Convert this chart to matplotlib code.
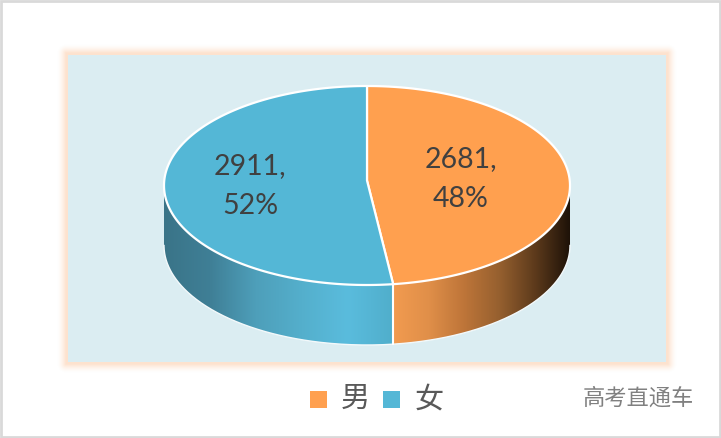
#!/usr/bin/env python3
import numpy as np
import matplotlib
matplotlib.use("Agg")
import matplotlib.pyplot as plt
from matplotlib.colors import LinearSegmentedColormap
from matplotlib.patches import Polygon, Rectangle

categories = ["男", "女"]
values = [2681, 2911]
colors = ["#FFA04F", "#54B7D6"]
side_orange = ["#F29B50", "#E08F49", "#BE7539", "#96602F", "#5E3B1C", "#1E1208"]
side_blue = ["#3A7488", "#3F7F96", "#4E9FBA", "#54AFCC", "#5ABCDD", "#50AECB"]

W, H = 721, 438
cx, cy, a, b = 367, 185.5, 203, 99.5
depth = 60


def rim(t):
    # t runs clockwise from the top of the pie
    return np.column_stack([cx + a * np.sin(t), cy - b * np.cos(t)])


def glow_panel(ax):
    # soft orange halo around the plot area
    x0, x1, y0, y1 = 66, 668, 53, 364
    xx, yy = np.meshgrid(np.arange(W) + 0.5, np.arange(H) + 0.5)
    dx = np.maximum(np.maximum(x0 - xx, xx - x1), 0)
    dy = np.maximum(np.maximum(y0 - yy, yy - y1), 0)
    dist = np.hypot(dx, dy)
    img = np.zeros((H, W, 4))
    img[..., :3] = matplotlib.colors.to_rgb("#FDE2CE")
    img[..., 3] = np.clip(1 - dist / 9, 0, 1) ** 1.6
    ax.imshow(img, extent=(0, W, H, 0), zorder=1, interpolation="bilinear")
    ax.add_patch(Rectangle((x0 + 2, y0 + 2), x1 - x0 - 4, y1 - y0 - 4,
                           fc="#DBEDF2", ec="none", zorder=2))


def side_wall(ax, t0, t1, stops):
    t = np.linspace(t0, t1, 200)
    top = rim(t)
    low = top + [0, depth]
    poly = Polygon(np.vstack([top, low[::-1]]), closed=True, fc="none", ec="none",
                   transform=ax.transData)
    ax.add_patch(poly)
    cmap = LinearSegmentedColormap.from_list("side", stops)
    x0, x1 = top[:, 0].min(), top[:, 0].max()
    grad = np.linspace(0, 1, 256).reshape(1, -1)
    im = ax.imshow(grad, cmap=cmap, aspect="auto", zorder=3,
                   extent=(x0, x1, cy + b + depth + 2, cy - 2))
    im.set_clip_path(poly)
    ax.plot(low[:, 0], low[:, 1], color="#F3F9FB", lw=1.0, zorder=4)


fig = plt.figure(figsize=(W / 100, H / 100), dpi=100)
ax = fig.add_axes([0, 0, 1, 1])

glow_panel(ax)

# side walls are only visible on the front half
split = 2 * np.pi * values[0] / sum(values)
side_wall(ax, np.pi / 2, split, side_orange)
side_wall(ax, split, 3 * np.pi / 2, side_blue)
edge = rim(np.array([split]))[0]
ax.plot([edge[0], edge[0]], [edge[1], edge[1] + depth], color="white", lw=1.5, zorder=4)

# top face
centre = (cx, cy - 5)
start = 0.0
for val, col in zip(values, colors):
    stop = start + 2 * np.pi * val / sum(values)
    pts = rim(np.linspace(start, stop, 300))
    ax.add_patch(Polygon(np.vstack([centre, pts]), closed=True, fc=col, ec="white",
                         lw=1.6, joinstyle="round", zorder=5))
    start = stop

# data labels
pct = [round(100 * v / sum(values)) for v in values]
label_pos = [(460.5, 179), (250, 186)]
for val, p, (lx, ly) in zip(values, pct, label_pos):
    ax.text(lx, ly, f"{val},\n{p}%", ha="center", va="center", family="Lato",
            fontsize=20.5, color="#404040", linespacing=1.62, zorder=6)

# legend
legend_x = [310, 383]
text_x = [355, 429]
for name, col, sx, tx in zip(categories, colors, legend_x, text_x):
    ax.add_patch(Rectangle((sx, 391), 16.5, 17, fc=col, ec="none", zorder=6))
    ax.text(tx, 399, name, ha="center", va="center", family="Noto Sans CJK SC",
            fontweight="light", fontsize=21, color="#595959", zorder=6)

ax.text(638, 398, "高考直通车", ha="center", va="center", family="Noto Sans CJK SC",
        fontweight="light", fontsize=16, color="#808080", zorder=6)

# screenshot frame
ax.add_patch(Rectangle((0.5, 1), W - 1.5, H - 2, fc="none", ec="#D9D9D9", lw=2, zorder=7))

ax.set_xlim(0, W)
ax.set_ylim(H, 0)
ax.axis("off")

fig.savefig("out.png", dpi=100, facecolor="white")
